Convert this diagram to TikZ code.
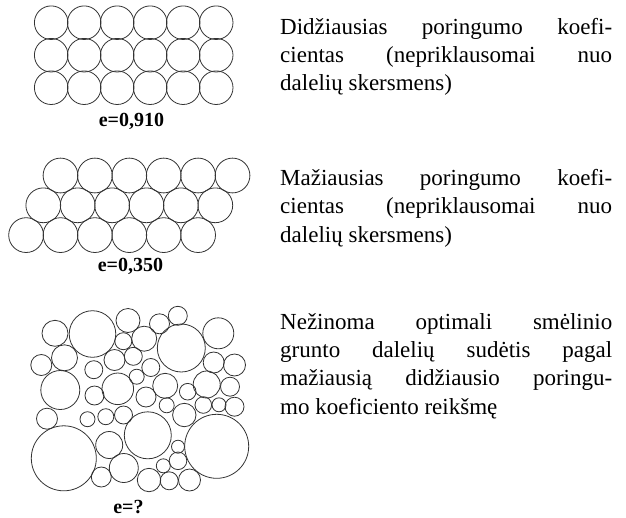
\documentclass[tikz,border=0pt]{standalone}
\usepackage{fontspec}
\setmainfont{Liberation Serif}
\newcommand{\jline}[1]{\makebox[332pt][s]{#1}}
\begin{document}
\begin{tikzpicture}[x=1pt,y=-1pt,
  grain/.style={draw=black!80,line width=0.8pt},
  body/.style={anchor=base west,inner sep=0pt,font=\fontsize{23}{28}\selectfont},
  ratio/.style={anchor=base,inner sep=0pt,font=\fontsize{20}{24}\selectfont\bfseries}]
\useasboundingbox (0,0) rectangle (626,517);

% cubic packing
\foreach \j in {0,1,2}
  \foreach \k in {0,...,5}
    \draw[grain] (51.2+33*\k,22.7+32.5*\j) circle (16.8);
\node[ratio] (e1) at (131.5,126.7) {e=0,910};

% rhombic (densest) packing
\foreach \j in {0,1,2}
  \foreach \k in {0,...,5}
    \draw[grain] (60.5-17.2*\j+34.4*\k,175.5+29.8*\j) circle (17.4);
\node[ratio] (e2) at (130.5,271.5) {e=0,350};

% mixed grain sizes
\foreach \x/\y/\r in {
  55/333.3/13, 92.5/334/23.3, 128/320.5/12, 159.5/323.8/10, 177.8/315.8/9.5,
  218.3/333.3/15.5, 181.3/348/24, 123.3/341.2/8.5, 144.2/338.7/12.5,
  64.5/357.8/13, 41.3/365/10.5, 114.5/360/10.5, 133.3/356.3/9,
  93.8/369.7/9, 150.8/367.5/9, 136.7/376.7/7.5, 213.7/362.5/10.5,
  234.5/365/11, 60.3/390/19.5, 117.8/388.8/15.8, 165.2/385.8/12.5,
  206.7/384.5/13.5, 230/386.7/9.5, 94.5/395.5/9.5, 146/397/10,
  187.7/391.7/8.3, 166.7/405.3/7.5, 184.3/415/11.7, 203.3/405/8.3,
  219/404.8/7, 234.5/406.7/9.5, 47/418.7/10.5, 87.5/419.2/7.5,
  105.8/416.7/8, 123.5/415/9, 147.8/435.3/23.5, 216.7/446.3/32,
  63.8/458.3/32.5, 109.2/445/13.5, 123.8/468/14.5, 101.3/477/10,
  178/446.7/6.5, 178/460.8/8.8, 163.3/465.8/7, 149/480/11.7,
  169.2/480.8/9, 189.5/480/11}
  \draw[grain] (\x,\y) circle (\r);
\node[ratio] (e3) at (128.5,513) {e=?};

% descriptions
\node[body] (d1a) at (280,34)   {\jline{Didžiausias poringumo koefi-}};
\node[body] (d1b) at (280,62.3) {\jline{cientas (nepriklausomai nuo}};
\node[body] (d1c) at (280,90.6) {dalelių skersmens)};

\node[body] (d2a) at (280,185.5) {\jline{Mažiausias poringumo koefi-}};
\node[body] (d2b) at (280,213.8) {\jline{cientas (nepriklausomai nuo}};
\node[body] (d2c) at (280,242.1) {dalelių skersmens)};

\node[body] (d3a) at (280,329.3) {\jline{Nežinoma optimali smėlinio}};
\node[body] (d3b) at (280,357.6) {\jline{grunto dalelių sudėtis pagal}};
\node[body] (d3c) at (280,385.9) {\jline{mažiausią didžiausio poringu-}};
\node[body] (d3d) at (280,414.2) {mo koeficiento reikšmę};
\end{tikzpicture}
\end{document}
